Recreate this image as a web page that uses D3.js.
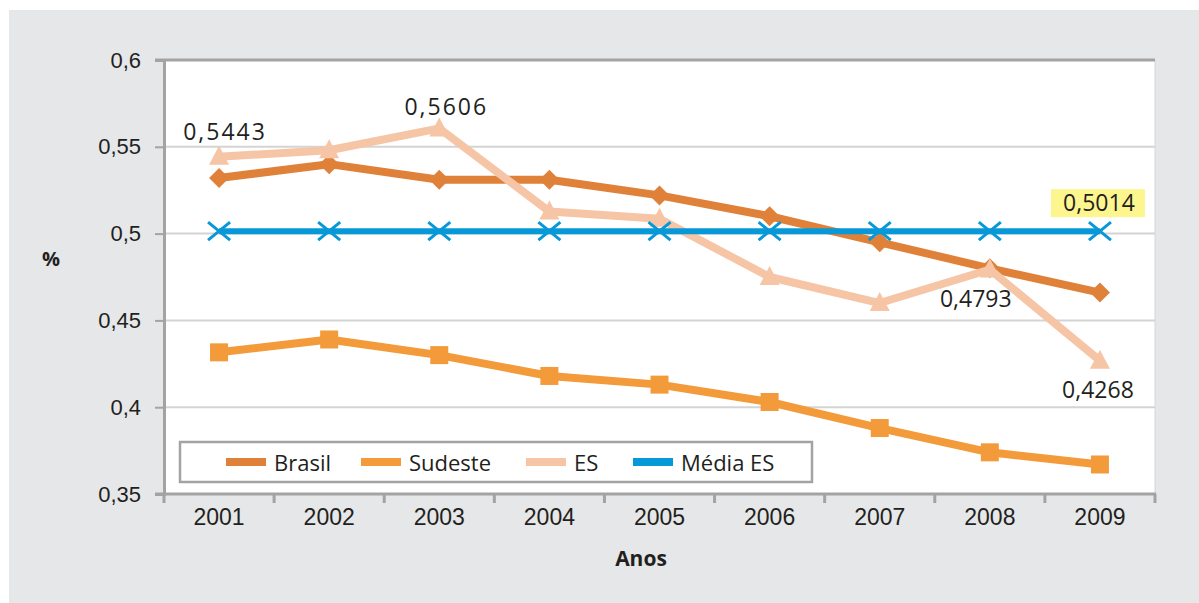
<!DOCTYPE html>
<html>
<head>
<meta charset="utf-8">
<script src="https://cdn.jsdelivr.net/npm/d3@7"></script>
<style>
  html, body { margin: 0; padding: 0; background: #fff; }
  svg { display: block; font-family: "Open Sans", "Noto Sans", sans-serif; }
</style>
</head>
<body>
<script>
// ____________ data
var anos = ['2001', '2002', '2003', '2004', '2005', '2006', '2007', '2008', '2009']
var brasil = [0.532, 0.540, 0.531, 0.531, 0.522, 0.510, 0.495, 0.480, 0.466]
var sudeste = [0.4316, 0.439, 0.430, 0.418, 0.413, 0.403, 0.388, 0.374, 0.367]
var es = [0.5443, 0.548, 0.5606, 0.5127, 0.5086, 0.475, 0.460, 0.4793, 0.4268]
var mediaEs = [0.5014, 0.5014, 0.5014, 0.5014, 0.5014, 0.5014, 0.5014, 0.5014, 0.5014]
var yTicks = [0.35, 0.4, 0.45, 0.5, 0.55, 0.6]
var legendNames = ['Brasil', 'Sudeste', 'ES', 'Média ES']

var W = 1199, H = 603
var margin = { left: 164, right: 44, top: 60, bottom: 109 }
var textColor = '#231f20'
var axisColor = '#a3a3a3'

var series = [
  { name: 'Brasil', values: brasil, color: '#e0813a', width: 8, marker: 'diamond' },
  { name: 'Sudeste', values: sudeste, color: '#f39a3a', width: 8, marker: 'square' },
  { name: 'ES', values: es, color: '#f5c5a6', width: 8, marker: 'triangle' },
  { name: 'Média ES', values: mediaEs, color: '#0798d8', width: 6, marker: 'x' }
]

var svg = d3.select('body').append('svg')
  .attr('width', W)
  .attr('height', H)

// background
svg.append('rect')
  .attr('x', 9).attr('y', 10)
  .attr('width', W - 9).attr('height', H - 10)
  .style('fill', '#e6e7e8')

var x = d3.scaleBand()
  .domain(anos)
  .range([margin.left, W - margin.right])

var y = d3.scaleLinear()
  .domain([0.35, 0.6])
  .range([H - margin.bottom, margin.top])

var cx = function (d, i) { return x(anos[i]) + x.bandwidth() / 2 }

// plot area
svg.append('rect')
  .attr('x', x.range()[0]).attr('y', y(0.6))
  .attr('width', x.range()[1] - x.range()[0])
  .attr('height', y(0.35) - y(0.6))
  .style('fill', '#fff')

svg.append('line')
  .attr('x1', x.range()[1]).attr('x2', x.range()[1])
  .attr('y1', y(0.6)).attr('y2', y(0.35))
  .style('stroke', '#d6d6d6').style('stroke-width', 1)

// gridlines
svg.append('g')
  .selectAll('line')
  .data(yTicks.filter(function (t) { return t > 0.35 && t < 0.6 }))
  .enter()
  .append('line')
    .attr('x1', x.range()[0]).attr('x2', x.range()[1])
    .attr('y1', function (d) { return y(d) }).attr('y2', function (d) { return y(d) })
    .style('stroke', '#d4d4d4').style('stroke-width', 2)

// top line at 0.6
svg.append('line')
  .attr('x1', x.range()[0] - 9).attr('x2', x.range()[1])
  .attr('y1', y(0.6)).attr('y2', y(0.6))
  .style('stroke', axisColor).style('stroke-width', 3)

// y axis
var fmt = function (d) { return d3.format('.2~f')(d).replace('.', ',') }
var yAxis = svg.append('g')
  .attr('transform', 'translate(' + x.range()[0] + ',0)')
  .call(d3.axisLeft(y).tickValues(yTicks).tickSize(9).tickPadding(14).tickFormat(fmt))
yAxis.select('.domain').style('stroke', axisColor).style('stroke-width', 3)
yAxis.selectAll('.tick line').style('stroke', axisColor).style('stroke-width', 2)
yAxis.selectAll('text').style('font-size', '22px').style('fill', textColor)

// x axis
var xAxis = svg.append('g')
  .attr('transform', 'translate(0,' + y(0.35) + ')')
  .call(d3.axisBottom(x).tickSize(0).tickPadding(15))
xAxis.select('.domain').remove()
xAxis.append('line')
  .attr('x1', x.range()[0] - 9).attr('x2', x.range()[1] + 1)
  .style('stroke', axisColor).style('stroke-width', 3)
xAxis.selectAll('line.sep')
  .data(anos.concat(['end']))
  .enter()
  .append('line')
    .classed('sep', true)
    .attr('x1', function (d, i) { return x.range()[0] + i * x.bandwidth() })
    .attr('x2', function (d, i) { return x.range()[0] + i * x.bandwidth() })
    .attr('y1', 0).attr('y2', 9)
    .style('stroke', axisColor).style('stroke-width', 3)
xAxis.selectAll('text').style('font-size', '23px').style('fill', textColor)

// axis titles
svg.append('text')
  .attr('x', 51).attr('y', 266)
  .attr('text-anchor', 'middle')
  .style('font-size', '20px').style('font-weight', 'bold').style('fill', textColor)
  .text('%')

svg.append('text')
  .attr('x', 641).attr('y', 566)
  .attr('text-anchor', 'middle')
  .style('font-size', '21px').style('font-weight', 'bold').style('fill', textColor)
  .text('Anos')

// markers
function markerPath(type) {
  if (type === 'diamond') return 'M0,-10L10,0L0,10L-10,0Z'
  if (type === 'square') return 'M-9,-9H9V9H-9Z'
  if (type === 'triangle') return 'M0,-11L10,8H-10Z'
  return 'M-11,-9L11,9M-11,9L11,-9'
}

var line = d3.line()
  .x(cx)
  .y(function (d) { return y(d) })

series.forEach(function (s) {
  var g = svg.append('g').classed('series', true)
  g.append('path')
    .datum(s.values)
    .attr('d', line)
    .style('fill', 'none')
    .style('stroke', s.color)
    .style('stroke-width', s.width)
    .style('stroke-linejoin', 'round')
  g.selectAll('path.mk')
    .data(s.values)
    .enter()
    .append('path')
      .classed('mk', true)
      .attr('transform', function (d, i) { return 'translate(' + cx(d, i) + ',' + y(d) + ')' })
      .attr('d', markerPath(s.marker))
      .style('fill', s.marker === 'x' ? 'none' : s.color)
      .style('stroke', s.marker === 'x' ? s.color : 'none')
      .style('stroke-width', 3)
})

// data labels
var labels = [
  { i: 0, v: es[0], dx: 6, dy: -17, spacing: 2 },
  { i: 2, v: es[2], dx: 7, dy: -13, spacing: 2 },
  { i: 7, v: es[7], dx: -14, dy: 37, spacing: 0 },
  { i: 8, v: es[8], dx: -2, dy: 37, spacing: 0 }
]
svg.append('g')
  .selectAll('text')
  .data(labels)
  .enter()
  .append('text')
    .attr('x', function (d) { return cx(d.v, d.i) + d.dx })
    .attr('y', function (d) { return y(d.v) + d.dy })
    .attr('text-anchor', 'middle')
    .style('font-size', '23px')
    .style('letter-spacing', function (d) { return d.spacing + 'px' })
    .style('fill', textColor)
    .text(function (d) { return d3.format('.4f')(d.v).replace('.', ',') })

// highlighted média label
var mg = svg.append('g')
  .attr('transform', 'translate(' + (cx(0, 8) - 1) + ',' + (y(mediaEs[8]) - 29) + ')')
mg.append('rect')
  .attr('x', -48).attr('y', -13)
  .attr('width', 94).attr('height', 28)
  .style('fill', '#fdf68f')
mg.append('text')
  .attr('y', 9)
  .attr('text-anchor', 'middle')
  .style('font-size', '23px').style('fill', textColor)
  .text(d3.format('.4f')(mediaEs[8]).replace('.', ','))

// legend
var legend = svg.append('g')
  .attr('transform', 'translate(180,442)')
legend.append('rect')
  .attr('width', 632).attr('height', 40)
  .style('fill', '#fff')
  .style('stroke', axisColor).style('stroke-width', 2.5)

var legendX = [46, 181, 346, 453]
var items = legend.selectAll('g.item')
  .data(series)
  .enter()
  .append('g')
    .classed('item', true)
    .attr('transform', function (d, i) { return 'translate(' + legendX[i] + ',20)' })
items.append('line')
  .attr('x1', 0).attr('x2', 40)
  .style('stroke', function (d) { return d.color })
  .style('stroke-width', 8)
items.append('text')
  .attr('x', 48).attr('y', 9)
  .style('font-size', '22px').style('fill', textColor)
  .text(function (d, i) { return legendNames[i] })
</script>
</body>
</html>
